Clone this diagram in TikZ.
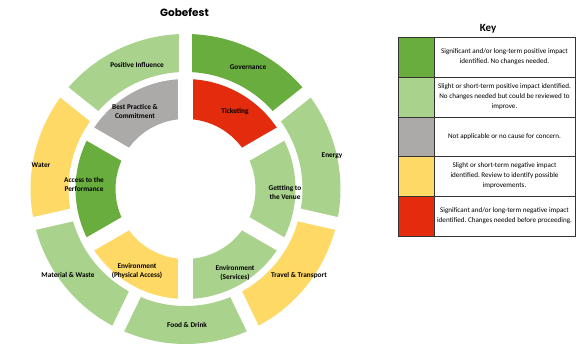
\documentclass[tikz,border=0pt]{standalone}
\usepackage{fontspec}
\setmainfont{Carlito}
\newfontfamily\titlefont{Poppins}
\frenchspacing
\begin{document}
\begin{tikzpicture}[x=1pt,y=1pt,
  seglabel/.style={font=\bfseries\fontsize{7.3}{9}\selectfont, align=center, inner sep=0pt},
  keytext/.style={font=\fontsize{7.1}{10}\selectfont, align=center, inner sep=0pt},
  gapline/.style={draw=white, line width=#1},
  rule/.style={draw=black!80, line width=0.6pt}]
\definecolor{dgreen}{HTML}{6AAD3F}
\definecolor{lgreen}{HTML}{A9D28D}
\definecolor{grey}{HTML}{ACA9A9}
\definecolor{amber}{HTML}{FFD966}
\definecolor{crimson}{HTML}{E32C0D}

\useasboundingbox (0,0) rectangle (577,-344);

\node[font=\titlefont\bfseries\fontsize{10.5}{12}\selectfont] (title) at (184.5,-12) {Gobefest};

% annular sector: #1 colour, #2 start angle, #3 end angle, #4 inner r, #5 outer r
\newcommand\ringseg[5]{%
  \fill[#1] (#2:#5) arc[start angle=#2, end angle=#3, radius=#5]
    -- (#3:#4) arc[start angle=#3, end angle=#2, radius=#4] -- cycle;}

\begin{scope}[shift={(185.5,-189)}]
  % outer ring, seven sectors
  \ringseg{dgreen}{38.571}{90}{117}{155}
  \ringseg{lgreen}{-12.857}{38.571}{117}{155}
  \ringseg{amber}{-64.286}{-12.857}{117}{155}
  \ringseg{lgreen}{-115.714}{-64.286}{117}{155}
  \ringseg{lgreen}{-167.143}{-115.714}{117}{155}
  \ringseg{amber}{141.429}{192.857}{117}{155}
  \ringseg{lgreen}{90}{141.429}{117}{155}
  % inner ring, six sectors
  \ringseg{crimson}{30}{90}{70}{110}
  \ringseg{lgreen}{-30}{30}{70}{110}
  \ringseg{lgreen}{-90}{-30}{70}{110}
  \ringseg{amber}{-150}{-90}{70}{110}
  \ringseg{dgreen}{150}{210}{70}{110}
  \ringseg{grey}{90}{150}{70}{110}
  % straight white gaps between sectors
  \foreach \a in {90,38.571,-12.857,-64.286,-115.714,-167.143,141.429}
    \draw[gapline=13pt] (\a:113) -- (\a:160);
  \foreach \a in {90,30,-30,-90,-150,150}
    \draw[gapline=15pt] (0,0) -- (\a:113);
\end{scope}

% sector labels
\node[seglabel] (posinf) at (137,-65) {Positive Influence};
\node[seglabel] (gov) at (248,-67) {Governance};
\node[seglabel] (best) at (135,-111) {Best Practice \&\\Commitment};
\node[seglabel] (tick) at (235,-112) {Ticketing};
\node[seglabel] (energy) at (332,-156) {Energy};
\node[seglabel] (water) at (41,-165) {Water};
\node[seglabel] (access) at (84,-184) {Access to the\\Performance};
\node[seglabel] (venue) at (285,-192) {Gettting to\\the Venue};
\node[seglabel] (envpa) at (137,-271) {Environment\\(Physical Access)};
\node[seglabel] (envsv) at (235,-273) {Environment\\(Services)};
\node[seglabel] (waste) at (68,-275) {Material \& Waste};
\node[seglabel] (travel) at (299,-276) {Travel \& Transport};
\node[seglabel] (food) at (187,-325) {Food \& Drink};

% key table
\node[font=\bfseries\fontsize{11}{12}\selectfont] (keyhead) at (488,-29) {Key};
\fill[dgreen] (398,-37) rectangle (434,-77);
\fill[lgreen] (398,-77) rectangle (434,-117);
\fill[grey] (398,-117) rectangle (434,-156);
\fill[amber] (398,-156) rectangle (434,-196);
\fill[crimson] (398,-196) rectangle (434,-236);
\draw[rule] (398,-37) rectangle (575,-236);
\draw[rule] (434,-37) -- (434,-236);
\foreach \y in {-77,-117,-156,-196}
  \draw[rule] (398,\y) -- (575,\y);
\node[keytext] (k1) at (504.5,-57) {Significant and/or long-term positive impact\\identified. No changes needed.};
\node[keytext] (k2) at (504.5,-97) {Slight or short-term positive impact identified.\\No changes needed but could be reviewed to\\improve.};
\node[keytext] (k3) at (504.5,-136.5) {Not applicable or no cause for concern.};
\node[keytext] (k4) at (504.5,-176) {Slight or short-term negative impact\\identified. Review to identify possible\\improvements.};
\node[keytext] (k5) at (504.5,-216) {Significant and/or long-term negative impact\\identified. Changes needed before proceeding.};
\end{tikzpicture}
\end{document}
